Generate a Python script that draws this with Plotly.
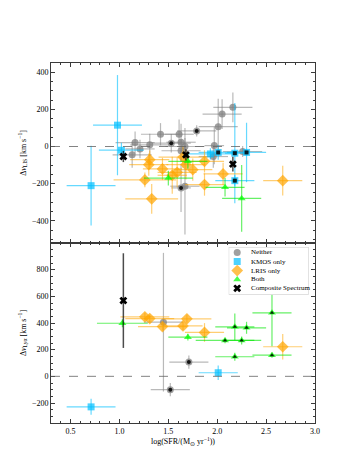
import plotly.graph_objects as go
from plotly.subplots import make_subplots

# ---------------- TOP PANEL (Delta v_LIS) ----------------
top_neither_x = [1.13, 1.16, 1.21, 1.31, 1.42, 1.53, 1.61, 1.63, 1.63, 1.67, 1.67, 1.79, 1.63, 2.01, 2.05, 2.16, 1.97, 1.96, 2.26]
top_neither_y = [-45, 21, -13, 9, 66, 18, 66, 23, -23, 0, -214, 84, -223, 107, 175, 211, 5, -54, -27]
top_neither_xe = [0.2, 0.2, 0.15, 0.2, 0.2, 0.2, 0.15, 0.15, 0.2, 0.2, 0.15, 0.2, 0.1, 0.2, 0.2, 0.2, 0.1, 0.15, 0.2]
top_neither_ye = [70, 60, 50, 60, 60, 50, 80, 100, 60, 100, 260, 30, 130, 150, 80, 80, 100, 60, 30]
top_neither_flag = [0, 0, 0, 0, 0, 1, 0, 0, 0, 0, 0, 1, 1, 0, 0, 0, 0, 0, 0]

top_kmos_x = [0.98, 0.71, 1.02, 1.93, 2.01, 2.18, 2.30, 2.18]
top_kmos_y = [115, -211, -20, -40, -32, -36, -32, -184]
top_kmos_xe = [0.25, 0.25, 0.23, 0.25, 0.2, 0.1, 0.2, 0.2]
top_kmos_ye = [270, 215, 40, 30, 40, 270, 160, 30]
top_kmos_flag = [0, 0, 0, 0, 1, 1, 1, 1]

top_lris_x = [1.31, 1.30, 1.26, 1.33, 1.44, 1.54, 1.59, 1.65, 1.68, 1.75, 1.87, 1.87, 2.06, 2.67]
top_lris_y = [-71, -98, -180, -282, -121, -155, -139, -57, -98, -125, -80, -205, -148, -184]
top_lris_xe = [0.2, 0.2, 0.32, 0.27, 0.2, 0.15, 0.2, 0.25, 0.2, 0.2, 0.2, 0.2, 0.2, 0.2]
top_lris_ye = [50, 60, 40, 80, 60, 100, 80, 60, 80, 60, 60, 60, 60, 80]

top_both_x = [1.50, 1.70, 2.08, 2.25]
top_both_y = [-170, -80, -220, -280]
top_both_xe = [0.25, 0.2, 0.2, 0.2]
top_both_ye = [40, 40, 50, 180]

top_comp_x = [1.04, 1.68, 2.16]
top_comp_y = [-54, -45, -95]
top_comp_ye = [30, 30, 40]

# ---------------- BOTTOM PANEL (Delta v_Lya) ----------------
bot_neither_x = [1.45, 1.71, 1.52]
bot_neither_y = [406, 107, -100]
bot_neither_xe = [0.2, 0.2, 0.2]
bot_neither_ye = [520, 50, 50]
bot_neither_flag = [0, 1, 1]

bot_kmos_x = [2.01, 0.71]
bot_kmos_y = [27, -229]
bot_kmos_xe = [0.2, 0.25]
bot_kmos_ye = [55, 60]

bot_lris_x = [1.26, 1.31, 1.44, 1.65, 1.69, 1.87, 2.67]
bot_lris_y = [446, 433, 373, 378, 431, 329, 222]
bot_lris_xe = [0.25, 0.25, 0.25, 0.2, 0.25, 0.2, 0.2]
bot_lris_ye = [30, 30, 30, 30, 30, 70, 95]

bot_both_x = [1.03, 1.70, 2.08, 2.18, 2.30, 2.25, 2.18, 2.56, 2.56]
bot_both_y = [398, 294, 269, 371, 364, 269, 147, 476, 159]
bot_both_xe = [0.26, 0.2, 0.3, 0.2, 0.2, 0.2, 0.2, 0.2, 0.2]
bot_both_ye = [30, 25, 20, 100, 45, 30, 30, 250, 20]
bot_both_flag = [0, 0, 1, 1, 1, 1, 1, 1, 1]

bot_comp_x = [1.04]
bot_comp_y = [568]
bot_comp_ye = [355]

x_ticks = [0.5, 1.0, 1.5, 2.0, 2.5, 3.0]
top_yticks = [-400, -200, 0, 200, 400]
bot_yticks = [-200, 0, 200, 400, 600, 800]

legend_labels = ["Neither", "KMOS only", "LRIS only", "Both", "Composite Spectrum"]

FONT = "Liberation Serif"
AXC = "#3a3a3a"
GREY = "rgba(128,128,128,0.75)"
GREY_E = "rgba(128,128,128,0.55)"
BLUE = "rgba(0,191,255,0.7)"
BLUE_E = "rgba(0,191,255,0.6)"
ORANGE = "rgba(255,165,0,0.7)"
ORANGE_E = "rgba(255,165,0,0.55)"
GREEN = "rgba(0,255,0,0.7)"
GREEN_E = "rgba(0,230,0,0.6)"

styles = [
    ("circle", GREY, 7),
    ("square", BLUE, 7),
    ("diamond", ORANGE, 9),
    ("triangle-up", GREEN, 7),
    ("x", "black", 7),
]

fig = make_subplots(rows=2, cols=1, shared_xaxes=True, vertical_spacing=0)


def add_series(row, x, y, xe, ye, name, symbol, color, ecolor, size):
    fig.add_trace(go.Scatter(
        x=x, y=y, mode="markers", name=name, showlegend=False,
        marker=dict(symbol=symbol, color=color, size=size, line=dict(width=0)),
        error_x=dict(type="data", array=xe, visible=True, color=ecolor, thickness=1.2, width=0),
        error_y=dict(type="data", array=ye, visible=True, color=ecolor, thickness=1.2, width=0),
    ), row=row, col=1)


def add_flags(row, x, y, flags, symbol):
    fx = [a for a, f in zip(x, flags) if f]
    fy = [b for b, f in zip(y, flags) if f]
    if fx:
        fig.add_trace(go.Scatter(x=fx, y=fy, mode="markers", showlegend=False,
                                 marker=dict(symbol=symbol, color="rgba(0,0,0,0.85)", size=4)),
                      row=row, col=1)


def add_comp(row, x, y, ye):
    fig.add_trace(go.Scatter(
        x=x, y=y, mode="markers", name="Composite Spectrum", showlegend=False,
        marker=dict(symbol="x", color="black", size=7, line=dict(width=0)),
        error_y=dict(type="data", array=ye, visible=True, color="rgba(0,0,0,0.7)", thickness=1.5, width=0),
    ), row=row, col=1)


# top
add_series(1, top_neither_x, top_neither_y, top_neither_xe, top_neither_ye, "Neither", "circle", GREY, GREY_E, 7)
add_series(1, top_kmos_x, top_kmos_y, top_kmos_xe, top_kmos_ye, "KMOS only", "square", BLUE, BLUE_E, 7)
add_series(1, top_lris_x, top_lris_y, top_lris_xe, top_lris_ye, "LRIS only", "diamond", ORANGE, ORANGE_E, 9)
add_series(1, top_both_x, top_both_y, top_both_xe, top_both_ye, "Both", "triangle-up", GREEN, GREEN_E, 7)
add_flags(1, top_neither_x, top_neither_y, top_neither_flag, "circle")
add_flags(1, top_kmos_x, top_kmos_y, top_kmos_flag, "square")
add_comp(1, top_comp_x, top_comp_y, top_comp_ye)

# bottom
add_series(2, bot_neither_x, bot_neither_y, bot_neither_xe, bot_neither_ye, "Neither", "circle", GREY, GREY_E, 7)
add_series(2, bot_kmos_x, bot_kmos_y, bot_kmos_xe, bot_kmos_ye, "KMOS only", "square", BLUE, BLUE_E, 7)
add_series(2, bot_lris_x, bot_lris_y, bot_lris_xe, bot_lris_ye, "LRIS only", "diamond", ORANGE, ORANGE_E, 9)
add_series(2, bot_both_x, bot_both_y, bot_both_xe, bot_both_ye, "Both", "triangle-up", GREEN, GREEN_E, 7)
add_flags(2, bot_neither_x, bot_neither_y, bot_neither_flag, "circle")
add_flags(2, bot_both_x, bot_both_y, bot_both_flag, "triangle-up")
add_comp(2, bot_comp_x, bot_comp_y, bot_comp_ye)

# zero lines
for r in (1, 2):
    fig.add_hline(y=0, line=dict(color="rgba(100,100,100,0.8)", dash="dash", width=1), row=r, col=1)

# ---- compact legend drawn in its own small overlay axes (pixel units) ----
LW, LH = 80, 48
fig.add_trace(go.Scatter(
    x=[0, LW, LW, 0, 0], y=[0, 0, LH, LH, 0], mode="lines", fill="toself",
    fillcolor="rgba(255,255,255,0.85)", line=dict(color="#cccccc", width=1),
    showlegend=False, hoverinfo="skip", xaxis="x3", yaxis="y3"))
row_y = [5.5, 14.6, 23.7, 32.6, 41.6]
for (sym, col, sz), ry, lab in zip(styles, row_y, legend_labels):
    fig.add_trace(go.Scatter(
        x=[8.5], y=[ry], mode="markers", showlegend=False, hoverinfo="skip",
        marker=dict(symbol=sym, color=col, size=sz, line=dict(width=0)),
        xaxis="x3", yaxis="y3"))
    fig.add_annotation(x=20, y=ry, xref="x3", yref="y3", text=lab, showarrow=False,
                       xanchor="left", yanchor="middle",
                       font=dict(family=FONT, size=7, color="black"))

axis_common = dict(
    showline=True, linecolor=AXC, linewidth=1, mirror="ticks",
    ticks="inside", ticklen=4, tickcolor=AXC, tickwidth=1,
    showgrid=False, zeroline=False,
    tickfont=dict(family=FONT, size=8, color="black"),
)

fig.update_xaxes(range=[0.3, 3.0], tickvals=x_ticks,
                 minor=dict(ticks="inside", ticklen=2, dtick=0.1, tickcolor=AXC),
                 **axis_common)
fig.update_xaxes(showticklabels=False, row=1, col=1)
fig.update_xaxes(title=dict(text="log(SFR/(M<sub>⊙</sub> yr<sup>−1</sup>))",
                            font=dict(family=FONT, size=8, color="black"), standoff=2),
                 tickformat=".1f", row=2, col=1)

fig.update_yaxes(range=[-520, 450], tickvals=top_yticks,
                 minor=dict(ticks="inside", ticklen=2, dtick=50, tickcolor=AXC),
                 title=dict(text="Δ<i>v</i><sub>LIS</sub> [km s<sup>−1</sup>]",
                            font=dict(family=FONT, size=8, color="black"), standoff=4),
                 row=1, col=1, **axis_common)
fig.update_yaxes(range=[-350, 1000], tickvals=bot_yticks,
                 minor=dict(ticks="inside", ticklen=2, dtick=50, tickcolor=AXC),
                 title=dict(text="Δ<i>v</i><sub>Lyα</sub> [km s<sup>−1</sup>]",
                            font=dict(family=FONT, size=8, color="black"), standoff=4),
                 row=2, col=1, **axis_common)

fig.update_layout(
    width=341, height=467,
    margin=dict(l=43, r=34, t=55, b=52),
    plot_bgcolor="white", paper_bgcolor="white",
    font=dict(family=FONT, size=8, color="black"),
    separators=".\u2212",
    showlegend=False,
    xaxis3=dict(domain=[(220.7 - 43) / 264, (300.7 - 43) / 264], range=[0, LW],
                anchor="y3", visible=False, fixedrange=True),
    yaxis3=dict(domain=[(415 - 286.7) / 360, (415 - 239) / 360], range=[LH, 0],
                anchor="x3", visible=False, fixedrange=True),
)

fig.write_html("out.html")
